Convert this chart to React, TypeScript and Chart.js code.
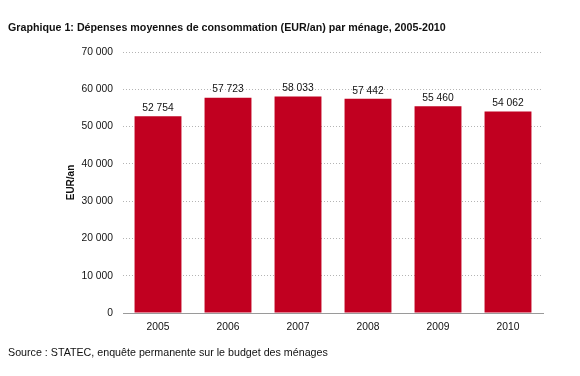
import React, { useEffect, useRef } from "react";
import { Chart, registerables } from "chart.js";

Chart.register(...registerables);

const categories = ["2005", "2006", "2007", "2008", "2009", "2010"];
const values = [52754, 57723, 58033, 57442, 55460, 54062];
const yTicks = [0, 10000, 20000, 30000, 40000, 50000, 60000, 70000];
const titleText = "Graphique 1: Dépenses moyennes de consommation (EUR/an) par ménage, 2005-2010";
const sourceText = "Source : STATEC, enquête permanente sur le budget des ménages";
const yAxisTitle = "EUR/an";

const FONT = "'Liberation Sans', Arial, Helvetica, sans-serif";
const fmt = (v: number) => {
  const s = Math.round(v).toString();
  return s.replace(/\B(?=(\d{3})+(?!\d))/g, " ");
};

const textPlugin = {
  id: "textPlugin",
  afterDraw(chart: any) {
    const ctx = chart.ctx;
    const area = chart.chartArea;
    ctx.save();
    // title
    ctx.fillStyle = "#111";
    ctx.font = `bold 10.7px ${FONT}`;
    ctx.textAlign = "left";
    ctx.textBaseline = "middle";
    ctx.fillText(titleText, 8, 28);
    // source
    ctx.font = `10.7px ${FONT}`;
    ctx.fillText(sourceText, 8, 353);
    // y axis title
    ctx.font = `bold 10px ${FONT}`;
    ctx.translate(71, (area.top + area.bottom) / 2);
    ctx.rotate(-Math.PI / 2);
    ctx.textAlign = "center";
    ctx.fillText(yAxisTitle, 0, 0);
    ctx.restore();
    // data labels
    ctx.save();
    const meta = chart.getDatasetMeta(0);
    ctx.font = `10.3px ${FONT}`;
    ctx.fillStyle = "#111";
    ctx.textAlign = "center";
    ctx.textBaseline = "bottom";
    meta.data.forEach((bar: any, i: number) => {
      ctx.fillText(fmt(values[i]), bar.x, bar.y - 3);
    });
    ctx.restore();
  },
};

export default function App() {
  const ref = useRef<HTMLCanvasElement>(null);
  useEffect(() => {
    if (!ref.current) return;
    const chart = new Chart(ref.current, {
      type: "bar",
      data: {
        labels: categories,
        datasets: [
          {
            data: values,
            backgroundColor: "#c10020",
            barPercentage: 0.67,
            categoryPercentage: 1,
          },
        ],
      },
      options: {
        animation: false,
        responsive: false,
        devicePixelRatio: 1,
        layout: { padding: { left: 0, top: 52, right: 37, bottom: 33 } },
        plugins: { legend: { display: false }, tooltip: { enabled: false }, title: { display: false } },
        scales: {
          x: {
            afterFit: (s: any) => { s.height = 30; },
            grid: { display: false, drawTicks: false },
            border: { display: true, color: "#9a9a9a", width: 1 },
            ticks: { color: "#111", font: { family: FONT, size: 10.3 }, padding: 8 },
          },
          y: {
            min: 0,
            max: 70000,
            afterFit: (s: any) => { s.width = 123; },
            afterBuildTicks: (s: any) => { s.ticks = yTicks.map((v) => ({ value: v })); },
            grid: {
              drawTicks: false,
              color: (c: any) => (c.tick && c.tick.value === 0 ? "rgba(0,0,0,0)" : "#b4b4b4"),
              lineWidth: 1,
            },
            border: { display: false, dash: [1, 2] },
            ticks: {
              color: "#111",
              font: { family: FONT, size: 10.3 },
              padding: 10,
              callback: (v: any) => fmt(Number(v)),
            },
          },
        },
      },
      plugins: [textPlugin],
    } as any);
    return () => chart.destroy();
  }, []);
  return (
    <div style={{ position: "absolute", left: 0, top: 0, width: 580, height: 376, background: "#fff" }}>
      <canvas ref={ref} width={580} height={376} style={{ width: 580, height: 376, display: "block" }} />
    </div>
  );
}
